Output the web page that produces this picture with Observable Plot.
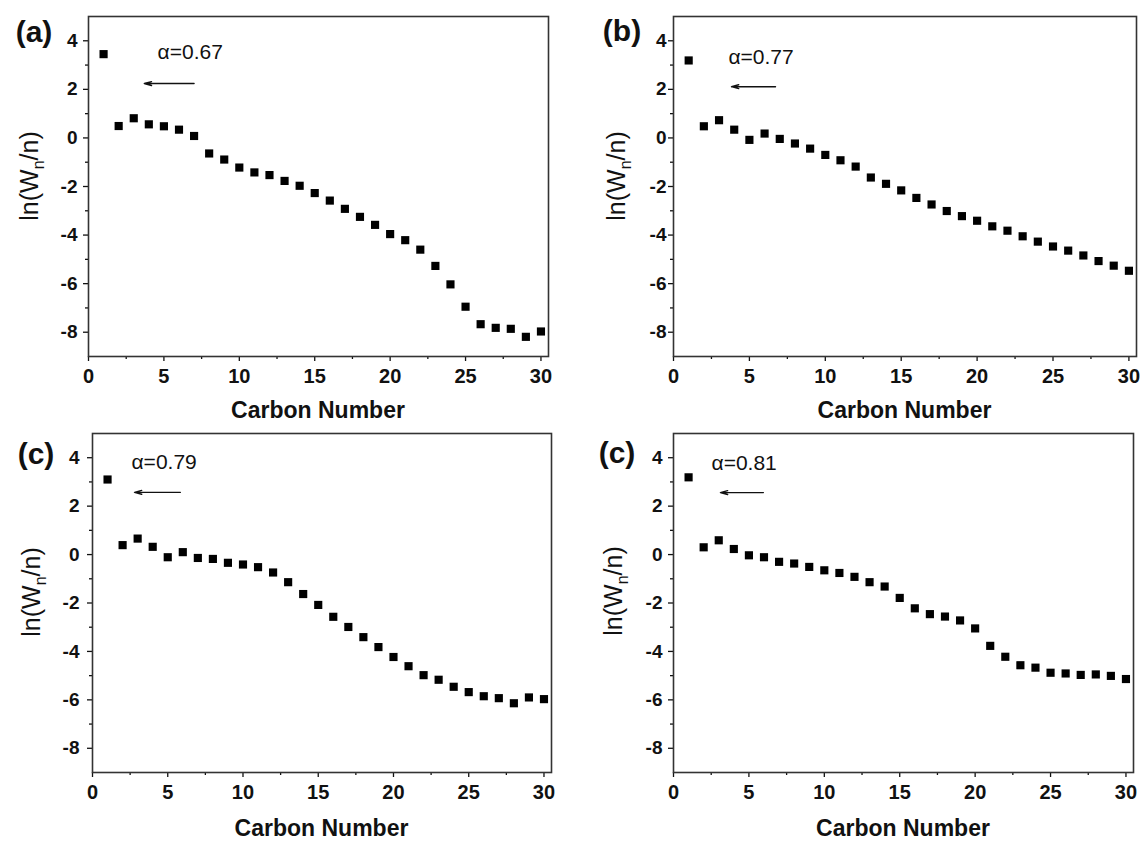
<!DOCTYPE html>
<html>
<head>
<meta charset="utf-8">
<script src="https://cdn.jsdelivr.net/npm/d3@7"></script>
<script src="https://cdn.jsdelivr.net/npm/@observablehq/plot@0.6"></script>
<style>
  html, body { margin: 0; padding: 0; background: #fff; }
  #wrap { position: relative; width: 1144px; height: 841px; overflow: hidden; font-family: "Liberation Sans", Arial, sans-serif; }
  .panel { position: absolute; }
</style>
</head>
<body>
<div id="wrap"></div>
<script>
// ---- data ----
const carbonNumber = [1,2,3,4,5,6,7,8,9,10,11,12,13,14,15,16,17,18,19,20,21,22,23,24,25,26,27,28,29,30];
const seriesA = [3.45, 0.49, 0.81, 0.56, 0.48, 0.34, 0.08, -0.64, -0.89, -1.22, -1.42, -1.53, -1.77, -1.97, -2.27, -2.58, -2.92, -3.25, -3.58, -3.96, -4.21, -4.60, -5.27, -6.03, -6.95, -7.67, -7.82, -7.86, -8.19, -7.97];
const seriesB = [3.19, 0.48, 0.73, 0.34, -0.08, 0.18, -0.04, -0.23, -0.44, -0.70, -0.92, -1.18, -1.63, -1.89, -2.16, -2.47, -2.74, -3.01, -3.22, -3.41, -3.64, -3.82, -4.05, -4.27, -4.47, -4.64, -4.84, -5.07, -5.26, -5.47];
const seriesC = [3.10, 0.39, 0.66, 0.32, -0.11, 0.10, -0.14, -0.18, -0.34, -0.41, -0.52, -0.74, -1.14, -1.63, -2.08, -2.57, -2.99, -3.41, -3.82, -4.23, -4.61, -4.98, -5.17, -5.46, -5.68, -5.85, -5.93, -6.14, -5.90, -5.97];
const seriesD = [3.19, 0.30, 0.59, 0.23, -0.03, -0.11, -0.30, -0.37, -0.51, -0.65, -0.76, -0.92, -1.14, -1.32, -1.79, -2.22, -2.46, -2.56, -2.72, -3.05, -3.77, -4.22, -4.57, -4.67, -4.88, -4.91, -4.97, -4.95, -5.01, -5.14];
const panelLabels = ["(a)", "(b)", "(c)", "(c)"];
const alphaLabels = ["α=0.67", "α=0.77", "α=0.79", "α=0.81"];
const xTicks = [0, 5, 10, 15, 20, 25, 30];
const xMinorTicks = [2.5, 7.5, 12.5, 17.5, 22.5, 27.5];
const yTicks = [4, 2, 0, -2, -4, -6, -8];
const yMinorTicks = [3, 1, -1, -3, -5, -7];
const xAxisLabel = "Carbon Number";

// ---- layout (positions / styles) ----
const FONT = "'Liberation Sans', Arial, sans-serif";
const INK = "#111";
const panels = [
  {series: seriesA, left: 0,   top: 0,   h: 420, m: {top: 16, right: 24, bottom: 64, left: 88},
   ylab: {x: 38, y: 176}, plab: {x: 34, y: 42}, xlabY: 418, ypad: 6,
   alpha: {x: 4.58, y: 3.25}, arrow: {x1: 7.0, x2: 3.7, y: 2.24}},
  {series: seriesB, left: 572, top: 0,   h: 420, m: {top: 16, right: 8, bottom: 64, left: 101},
   ylab: {x: 53, y: 176}, plab: {x: 50, y: 41}, xlabY: 418, ypad: 2,
   alpha: {x: 3.62, y: 3.05}, arrow: {x1: 6.72, x2: 3.82, y: 2.11}},
  {series: seriesC, left: 0,   top: 420, h: 421, m: {top: 13, right: 21, bottom: 69, left: 92},
   ylab: {x: 40, y: 172}, plab: {x: 36, y: 44}, xlabY: 416, ypad: 8,
   alpha: {x: 2.59, y: 3.52}, arrow: {x1: 5.84, x2: 2.79, y: 2.57}},
  {series: seriesD, left: 572, top: 420, h: 421, m: {top: 13, right: 11, bottom: 69, left: 101},
   ylab: {x: 50, y: 171}, plab: {x: 45, y: 43}, xlabY: 416, ypad: 6,
   alpha: {x: 2.52, y: 3.50}, arrow: {x1: 5.96, x2: 3.11, y: 2.56}}
];

const wrap = document.getElementById("wrap");

panels.forEach((p, i) => {
  const data = carbonNumber.map((n, k) => ({n, v: p.series[k]}));
  const W = 572;
  const chart = Plot.plot({
    width: W,
    height: p.h,
    marginTop: p.m.top, marginRight: p.m.right, marginBottom: p.m.bottom, marginLeft: p.m.left,
    style: {fontFamily: FONT, background: "white", color: INK, overflow: "visible"},
    x: {domain: [0, 30.5]},
    y: {domain: [-9, 5]},
    marks: [
      Plot.axisX({ticks: xTicks, tickSize: 5, text: null, label: null, stroke: INK, strokeWidth: 1.3}),
      Plot.axisX({ticks: xMinorTicks, tickSize: 3, text: null, label: null, stroke: INK, strokeWidth: 1.3}),
      Plot.axisY({ticks: yTicks, tickSize: 5, text: null, label: null, stroke: INK, strokeWidth: 1.3}),
      Plot.axisY({ticks: yMinorTicks, tickSize: 3, text: null, label: null, stroke: INK, strokeWidth: 1.3}),
      Plot.text(xTicks, {x: d => d, text: d => String(d), frameAnchor: "bottom", lineAnchor: "top", dy: 12,
        fontSize: 20, fontWeight: "bold", fill: INK}),
      Plot.text(yTicks, {y: d => d, text: d => String(d), frameAnchor: "left", textAnchor: "end", lineAnchor: "middle",
        dx: -(5 + p.ypad), fontSize: 19, fontWeight: "bold", fill: INK}),
      Plot.frame({stroke: "#333", strokeWidth: 1.6}),
      Plot.dot(data, {x: "n", y: "v", symbol: "square", r: 4.6, fill: "black", stroke: "none"}),
      Plot.text([alphaLabels[i]], {x: () => p.alpha.x, y: () => p.alpha.y, text: d => d, textAnchor: "start", lineAnchor: "bottom", fontSize: 21, fill: INK}),
      Plot.arrow([p.arrow], {x1: "x1", x2: "x2", y1: "y", y2: "y", stroke: INK, strokeWidth: 1.4, headLength: 8, headAngle: 30})
    ]
  });
  const div = document.createElement("div");
  div.className = "panel";
  div.style.left = p.left + "px";
  div.style.top = p.top + "px";
  div.appendChild(chart);
  wrap.appendChild(div);

  const svg = d3.select(chart);
  // y axis label with subscript
  const yl = svg.append("text")
    .attr("transform", `translate(${p.ylab.x},${p.ylab.y}) rotate(-90)`)
    .attr("text-anchor", "middle")
    .attr("fill", INK)
    .style("font-family", FONT)
    .style("font-size", "25px");
  yl.append("tspan").text("ln(W");
  yl.append("tspan").attr("dy", 6).style("font-size", "16px").text("n");
  yl.append("tspan").attr("dy", -6).text("/n)");
  // x axis label
  svg.append("text")
    .attr("x", p.m.left + (W - p.m.left - p.m.right) / 2)
    .attr("y", p.xlabY)
    .attr("text-anchor", "middle")
    .attr("fill", INK)
    .style("font-family", FONT)
    .style("font-size", "23px")
    .style("font-weight", "bold")
    .text(xAxisLabel);
  // panel label
  svg.append("text")
    .attr("x", p.plab.x)
    .attr("y", p.plab.y)
    .attr("text-anchor", "middle")
    .attr("fill", INK)
    .style("font-family", FONT)
    .style("font-size", "30px")
    .style("font-weight", "bold")
    .text(panelLabels[i]);
});
</script>
</body>
</html>
